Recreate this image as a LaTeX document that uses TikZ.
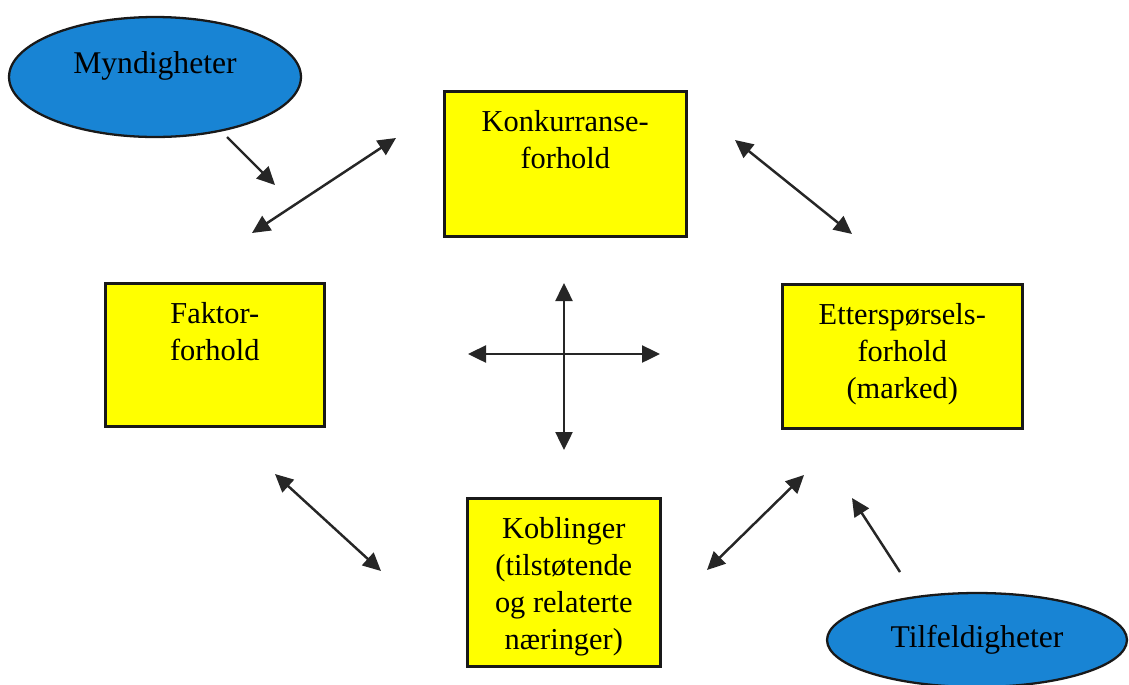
\documentclass[tikz,border=0pt]{standalone}
\usepackage{fontspec}
\setmainfont{Liberation Serif}
\usetikzlibrary{arrows.meta,shapes.geometric}
\definecolor{boksgul}{RGB}{255,255,0}
\definecolor{skyblaa}{RGB}{24,132,212}
\newcommand{\bokstekst}[3]{\parbox[t][#2][t]{#1}{\centering\vspace*{0.39cm}#3}}

\begin{document}
\begin{tikzpicture}[x=0.02cm, y=-0.02cm, >={Triangle[length=0.36cm, width=0.34cm]},
    font=\fontsize{17.3}{21}\selectfont,
    boks/.style={draw=black!90, fill=boksgul, line width=1.5pt, inner sep=0pt, anchor=north west},
    sky/.style={ellipse, draw=black!90, fill=skyblaa, line width=1.3pt, inner sep=0pt, font=\fontsize{18}{21}\selectfont},
    pil/.style={line width=1.4pt, draw=black!85, fill=black!85}]
    \useasboundingbox (0, 0) rectangle (1129, 684);

    % Boxes
    \node[boks] (konk) at (443, 90) {\bokstekst{4.84cm}{2.9cm}{Konkurranse-\\forhold}};
    \node[boks] (faktor) at (104, 282) {\bokstekst{4.38cm}{2.86cm}{Faktor-\\forhold}};
    \node[boks] (etter) at (781, 283) {\bokstekst{4.8cm}{2.88cm}{Etterspørsels-\\forhold\\(marked)}};
    \node[boks] (kobl) at (466, 497) {\bokstekst{3.86cm}{3.36cm}{Koblinger\\(tilstøtende\\og relaterte\\næringer)}};

    % Ellipses
    \node[sky, minimum width=5.84cm, minimum height=2.4cm, text height=0.2cm, text depth=0.36cm] (mynd) at (155, 77) {Myndigheter};
    \node[sky, minimum width=6cm, minimum height=1.88cm] (tilf) at (977, 640) {Tilfeldigheter};

    % Arrow ends
    \coordinate (mynd-fra) at (227, 137);
    \coordinate (mynd-til) at (275, 185);
    \coordinate (fk-a) at (252, 233);
    \coordinate (fk-b) at (396, 138);
    \coordinate (ke-a) at (735, 140);
    \coordinate (ke-b) at (852, 234);
    \coordinate (fb-a) at (275, 474);
    \coordinate (fb-b) at (381, 571);
    \coordinate (be-a) at (707, 570);
    \coordinate (be-b) at (804, 475);
    \coordinate (tilf-fra) at (900, 572);
    \coordinate (tilf-til) at (852, 498);
    \coordinate (kryss-n) at (564, 283);
    \coordinate (kryss-s) at (564, 450);
    \coordinate (kryss-v) at (468, 354);
    \coordinate (kryss-o) at (660, 354);

    % Influences from outside
    \draw[pil, ->] (mynd-fra) -- (mynd-til);
    \draw[pil, ->] (tilf-fra) -- (tilf-til);

    % Links between the boxes
    \draw[pil, <->] (fk-a) -- (fk-b);
    \draw[pil, <->] (ke-a) -- (ke-b);
    \draw[pil, <->] (fb-a) -- (fb-b);
    \draw[pil, <->] (be-a) -- (be-b);

    % Cross in the middle
    \draw[pil, <->] (kryss-n) -- (kryss-s);
    \draw[pil, <->] (kryss-v) -- (kryss-o);

\end{tikzpicture}
\end{document}
